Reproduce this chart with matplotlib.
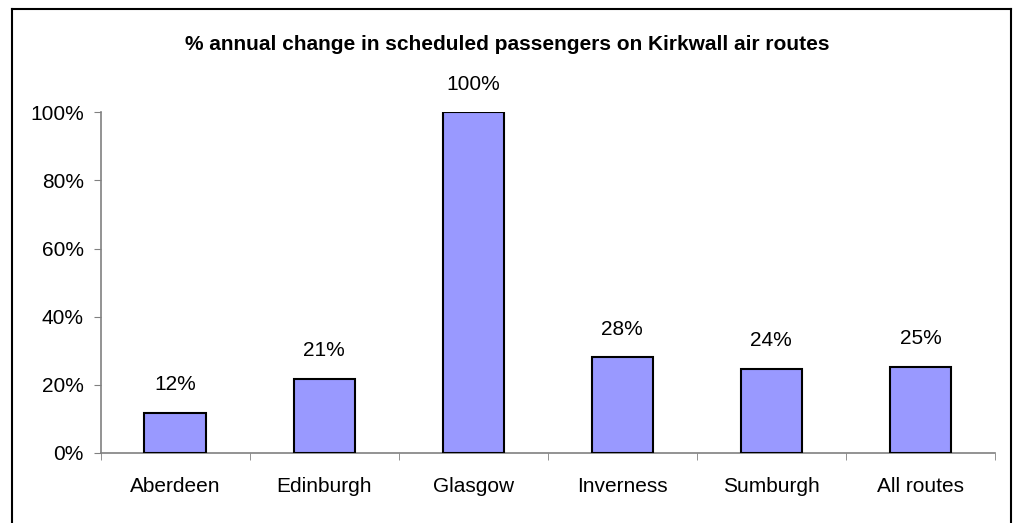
import matplotlib.pyplot as plt
from matplotlib.lines import Line2D
from matplotlib.ticker import PercentFormatter

routes = ["Aberdeen", "Edinburgh", "Glasgow", "Inverness", "Sumburgh", "All routes"]
change = [0.117, 0.218, 1.00, 0.281, 0.246, 0.252]
labels = ["12%", "21%", "100%", "28%", "24%", "25%"]

plt.rcParams['font.family'] = ['Liberation Sans', 'DejaVu Sans']

W, H = 1014, 523
fig = plt.figure(figsize=(W / 100, H / 100), dpi=100)
ax = fig.add_axes([100.5 / W, (H - 453) / H, (995 - 100.5) / W, (453 - 112.3) / H])

x = range(len(routes))
ax.bar(x, change, width=0.41, color="#9999FF", edgecolor="black", linewidth=1.5, zorder=3)

for xi, v, lab in zip(x, change, labels):
    ax.annotate(lab, (xi, v), xytext=(0, 13.5), textcoords="offset points",
                ha="center", va="bottom", fontsize=15)

ax.set_xlim(-0.5, len(routes) - 0.5)
ax.set_ylim(0, 1.0)
ax.yaxis.set_major_formatter(PercentFormatter(1.0, decimals=0))
ax.set_yticks([0, 0.2, 0.4, 0.6, 0.8, 1.0])
ax.tick_params(axis="y", labelsize=15, length=5, color="#808080", pad=7)

# category labels centred, ticks on the category boundaries
ax.set_xticks(list(x))
ax.set_xticklabels(routes, fontsize=15)
ax.tick_params(axis="x", which="major", length=0, pad=17)
ax.set_xticks([i - 0.5 for i in range(len(routes) + 1)], minor=True)
ax.tick_params(axis="x", which="minor", length=5, color="#808080")

for side in ["top", "right"]:
    ax.spines[side].set_visible(False)
for side in ["left", "bottom"]:
    ax.spines[side].set_color("#808080")
    ax.spines[side].set_linewidth(1.2)

fig.text(0.5, (H - 44) / H, "% annual change in scheduled passengers on Kirkwall air routes",
         ha="center", va="center", fontsize=15, fontweight="bold")

# chart frame (bottom edge falls outside the image)
left, right, top = 12 / W, 1011 / W, (H - 9) / H
for xs, ys in [([left, left], [-0.01, top]), ([left, right], [top, top]), ([right, right], [top, -0.01])]:
    fig.add_artist(Line2D(xs, ys, color="black", linewidth=1.5, transform=fig.transFigure))

fig.savefig("out.png", dpi=100)
